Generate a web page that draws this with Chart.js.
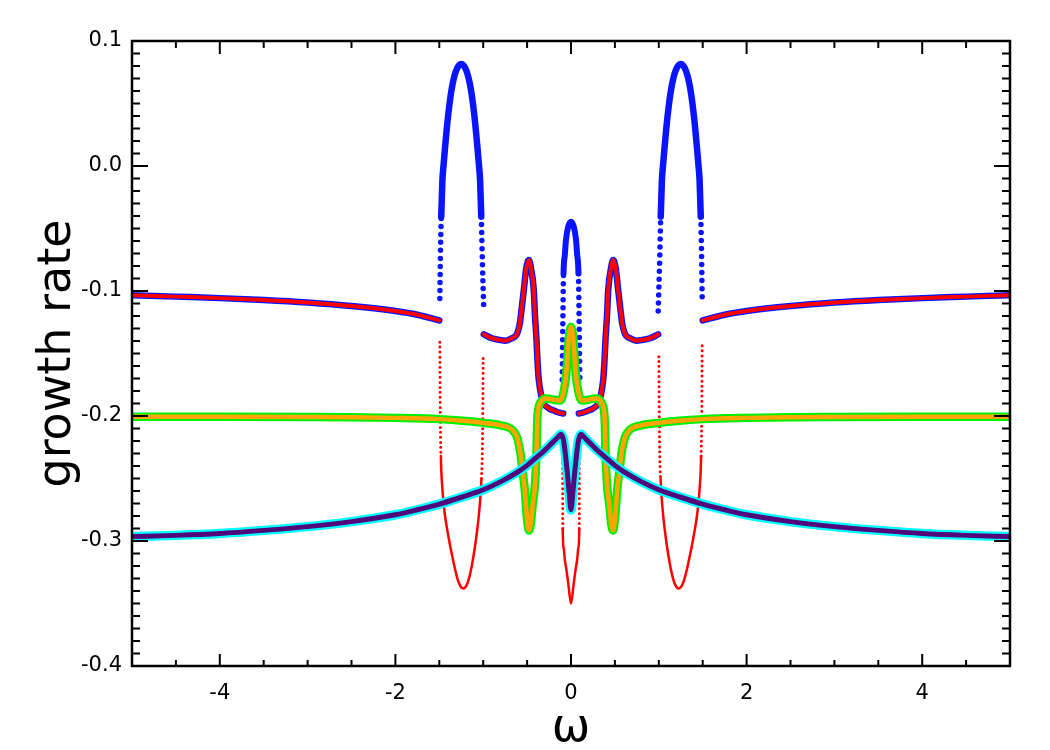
<!DOCTYPE html>
<html>
<head>
<meta charset="utf-8">
<script src="https://cdn.jsdelivr.net/npm/chart.js@4.4.1/dist/chart.umd.min.js"></script>
<style>
  body { margin: 0; background: #fff; }
  #wrap { width: 1050px; height: 750px; }
</style>
</head>
<body>
<div id="wrap"><canvas id="chart" width="1050" height="750"></canvas></div>
<script>
// axis ticks
const xTicks = [-4, -2, 0, 2, 4];
const xTickLabels = ['-4', '-2', '0', '2', '4'];
const yTicks = [-0.4, -0.3, -0.2, -0.1, 0.0, 0.1];
const yTickLabels = ['-0.4', '-0.3', '-0.2', '-0.1', '0.0', '0.1'];

// blue + red share these branches (outer wings)
const outerXL = [-5, -4.5, -4, -3.5, -3, -2.5, -2, -1.75, -1.5];
const outerYL = [-0.1033, -0.1045, -0.1057, -0.1072, -0.1092, -0.1120, -0.1160, -0.1190, -0.1235];
const outerXR = [1.5, 1.75, 2, 2.5, 3, 3.5, 4, 4.5, 5];
const outerYR = [-0.1235, -0.1190, -0.1160, -0.1120, -0.1092, -0.1072, -0.1057, -0.1045, -0.1033];

// blue + red inner branches
const innerXL = [-0.993, -0.9, -0.8, -0.746, -0.68, -0.613, -0.583, -0.56, -0.537, -0.51, -0.481, -0.455, -0.424, -0.41, -0.393, -0.38, -0.367, -0.336, -0.31, -0.25, -0.2, -0.15, -0.089];
const innerYL = [-0.1347, -0.1378, -0.1393, -0.1397, -0.138, -0.134, -0.126, -0.113, -0.099, -0.082, -0.0752, -0.082, -0.099, -0.12, -0.139, -0.158, -0.171, -0.1845, -0.190, -0.194, -0.1955, -0.197, -0.198];
const innerXR = [0.089, 0.15, 0.2, 0.25, 0.31, 0.336, 0.367, 0.38, 0.393, 0.41, 0.424, 0.455, 0.481, 0.51, 0.537, 0.56, 0.583, 0.613, 0.68, 0.746, 0.8, 0.9, 0.993];
const innerYR = [-0.198, -0.197, -0.1955, -0.194, -0.190, -0.1845, -0.171, -0.158, -0.139, -0.12, -0.099, -0.082, -0.0752, -0.082, -0.099, -0.113, -0.126, -0.134, -0.138, -0.1397, -0.1393, -0.1378, -0.1347];

// blue only (upper split branches)
const blueArcXL = [-1.494, -1.488, -1.478, -1.465, -1.45, -1.437, -1.40, -1.358, -1.31, -1.25, -1.19, -1.142, -1.10, -1.063, -1.05, -1.035, -1.022, -1.008, -0.993];
const blueArcYL = [-0.106, -0.075, -0.0405, -0.012, 0.002, 0.0128, 0.040, 0.062, 0.076, 0.0816, 0.076, 0.062, 0.040, 0.0128, 0.002, -0.012, -0.0405, -0.080, -0.116];
const blueArcXR = [0.993, 1.008, 1.022, 1.035, 1.05, 1.063, 1.10, 1.142, 1.19, 1.25, 1.31, 1.358, 1.40, 1.437, 1.45, 1.465, 1.478, 1.488, 1.494];
const blueArcYR = [-0.116, -0.080, -0.0405, -0.012, 0.002, 0.0128, 0.040, 0.062, 0.076, 0.0816, 0.076, 0.062, 0.040, 0.0128, 0.002, -0.012, -0.0405, -0.075, -0.106];
const blueMidX = [-0.100, -0.097, -0.093, -0.085, -0.070, -0.057, -0.030, 0, 0.030, 0.057, 0.070, 0.085, 0.093, 0.097, 0.100];
const blueMidY = [-0.171, -0.150, -0.126, -0.086, -0.071, -0.059, -0.048, -0.0445, -0.048, -0.059, -0.071, -0.086, -0.126, -0.150, -0.171];

// red only (lower split branches)
const redDipXL = [-1.494, -1.490, -1.482, -1.465, -1.44, -1.41, -1.335, -1.28, -1.228, -1.175, -1.125, -1.068, -1.04, -1.02, -1.008, -1.0];
const redDipYL = [-0.141, -0.190, -0.232, -0.258, -0.277, -0.291, -0.318, -0.333, -0.338, -0.333, -0.318, -0.291, -0.272, -0.25, -0.22, -0.1525];
const redDipXR = [1.0, 1.008, 1.02, 1.04, 1.068, 1.125, 1.175, 1.228, 1.28, 1.335, 1.41, 1.44, 1.465, 1.482, 1.490, 1.494];
const redDipYR = [-0.1525, -0.22, -0.25, -0.272, -0.291, -0.318, -0.333, -0.338, -0.333, -0.318, -0.291, -0.277, -0.258, -0.232, -0.190, -0.141];
const redMidX = [-0.095, -0.094, -0.085, -0.070, -0.052, -0.027, 0, 0.027, 0.052, 0.070, 0.085, 0.094, 0.095];
const redMidY = [-0.230, -0.290, -0.305, -0.315, -0.323, -0.3365, -0.350, -0.3365, -0.323, -0.315, -0.305, -0.290, -0.230];

// green / orange branch
const greenX = [-5, -4, -3, -2.5, -2, -1.5, -1.2, -1, -0.8, -0.7, -0.65, -0.61, -0.575, -0.55, -0.53, -0.5, -0.48, -0.46, -0.435, -0.412, -0.393, -0.385, -0.365, -0.34, -0.3, -0.25, -0.2, -0.12, -0.082, -0.055, -0.04, -0.028, -0.015, 0,
  0.015, 0.028, 0.04, 0.055, 0.082, 0.12, 0.2, 0.25, 0.3, 0.34, 0.365, 0.385, 0.393, 0.412, 0.435, 0.46, 0.48, 0.5, 0.53, 0.55, 0.575, 0.61, 0.65, 0.7, 0.8, 1, 1.2, 1.5, 2, 2.5, 3, 4, 5];
const greenY = [-0.2005, -0.2006, -0.2008, -0.201, -0.2015, -0.2025, -0.204, -0.2055, -0.2075, -0.2095, -0.2125, -0.218, -0.230, -0.245, -0.2565, -0.283, -0.2915, -0.287, -0.270, -0.2565, -0.230, -0.205, -0.192, -0.1885, -0.186, -0.1862, -0.187, -0.1875, -0.180, -0.167, -0.153, -0.140, -0.132, -0.1285,
  -0.132, -0.140, -0.153, -0.167, -0.180, -0.1875, -0.187, -0.1862, -0.186, -0.1885, -0.192, -0.205, -0.230, -0.2565, -0.270, -0.287, -0.2915, -0.283, -0.2565, -0.245, -0.230, -0.218, -0.2125, -0.2095, -0.2075, -0.2055, -0.204, -0.2025, -0.2015, -0.201, -0.2008, -0.2006, -0.2005];

// cyan / purple branch
const cyanX = [-5, -4.5, -4, -3.5, -3, -2.5, -2, -1.75, -1.5, -1.25, -1, -0.8, -0.6, -0.5, -0.4, -0.3, -0.2, -0.15, -0.115, -0.09, -0.075, -0.065, -0.045, -0.02, 0,
  0.02, 0.045, 0.065, 0.075, 0.09, 0.115, 0.15, 0.2, 0.3, 0.4, 0.5, 0.6, 0.8, 1, 1.25, 1.5, 1.75, 2, 2.5, 3, 3.5, 4, 4.5, 5];
const cyanY = [-0.2965, -0.2955, -0.294, -0.2915, -0.2885, -0.2845, -0.279, -0.275, -0.2705, -0.265, -0.259, -0.2525, -0.2445, -0.2395, -0.2335, -0.2275, -0.2205, -0.217, -0.2145, -0.218, -0.224, -0.230, -0.243, -0.262, -0.275,
  -0.262, -0.243, -0.230, -0.224, -0.218, -0.2145, -0.217, -0.2205, -0.2275, -0.2335, -0.2395, -0.2445, -0.2525, -0.259, -0.265, -0.2705, -0.275, -0.279, -0.2845, -0.2885, -0.2915, -0.294, -0.2955, -0.2965];

function pts(xs, ys) {
  return xs.map((x, i) => ({ x: x, y: ys[i] }));
}

// steep stretches of the eigenvalue branches were sampled sparsely -> show them dotted
function steep(ctx) {
  const dx = Math.abs(ctx.p1.x - ctx.p0.x);
  const dy = Math.abs(ctx.p1.y - ctx.p0.y);
  return dy > 32 * dx;
}

function line(xs, ys, color, width, order, dotted, dotGap) {
  const ds = {
    data: pts(xs, ys),
    showLine: true,
    borderColor: color,
    borderWidth: width,
    pointRadius: 0,
    cubicInterpolationMode: 'monotone',
    borderCapStyle: 'round',
    borderJoinStyle: 'round',
    order: order
  };
  if (dotted) {
    ds.segment = {
      borderDash: ctx => steep(ctx) ? [0, dotGap] : undefined,
      borderWidth: ctx => steep(ctx) ? dotted : undefined
    };
  }
  return ds;
}

const BLUE = '#0a14ff', RED = '#ff0000', GREEN = '#00f000', ORANGE = '#ffa500', CYAN = '#00ffff', PURPLE = '#50087a';

const datasets = [
  line(cyanX, cyanY, PURPLE, 5, 0),
  line(cyanX, cyanY, CYAN, 9.5, 1),
  line(greenX, greenY, ORANGE, 4.5, 2),
  line(greenX, greenY, GREEN, 8.5, 3),
  // red on top of blue
  line(outerXL, outerYL, RED, 4, 4),
  line(outerXR, outerYR, RED, 4, 4),
  line(innerXL, innerYL, RED, 4, 4),
  line(innerXR, innerYR, RED, 4, 4),
  line(redDipXL, redDipYL, RED, 2.5, 4, 3, 5),
  line(redDipXR, redDipYR, RED, 2.5, 4, 3, 5),
  line(redMidX, redMidY, RED, 2.5, 4, 3, 5),
  line(outerXL, outerYL, BLUE, 6.5, 5),
  line(outerXR, outerYR, BLUE, 6.5, 5),
  line(innerXL, innerYL, BLUE, 6.5, 5),
  line(innerXR, innerYR, BLUE, 6.5, 5),
  line(blueArcXL, blueArcYL, BLUE, 6.5, 5, 5.5, 8),
  line(blueArcXR, blueArcYR, BLUE, 6.5, 5, 5.5, 8),
  line(blueMidX, blueMidY, BLUE, 6, 5, 5.5, 8)
];

// box + inward ticks on all four sides
const frame = {
  id: 'frame',
  afterDatasetsDraw(chart) {
    const ctx = chart.ctx;
    const a = chart.chartArea;
    const xs = chart.scales.x, ys = chart.scales.y;
    ctx.save();
    ctx.strokeStyle = '#000';
    ctx.lineWidth = 2;
    ctx.beginPath();
    for (let i = 0; i <= 20; i++) {
      const v = -5 + i * 0.5;
      const px = xs.getPixelForValue(v);
      const len = (i % 4 === 2) ? 12 : 6;
      ctx.moveTo(px, a.bottom); ctx.lineTo(px, a.bottom - len);
      ctx.moveTo(px, a.top); ctx.lineTo(px, a.top + len + 1);
    }
    for (let i = 0; i <= 50; i++) {
      const v = -0.4 + i * 0.01;
      const py = ys.getPixelForValue(v);
      const len = (i % 10 === 0) ? 16 : 8;
      ctx.moveTo(a.left, py); ctx.lineTo(a.left + len, py);
      ctx.moveTo(a.right, py); ctx.lineTo(a.right - len, py);
    }
    ctx.stroke();
    ctx.lineWidth = 2.5;
    ctx.strokeRect(a.left, a.top, a.right - a.left, a.bottom - a.top);
    ctx.restore();
  }
};

const tickFont = { family: 'DejaVu Sans', size: 21 };

new Chart(document.getElementById('chart'), {
  type: 'scatter',
  data: { datasets: datasets },
  options: {
    responsive: false,
    animation: false,
    layout: { padding: { top: 41, right: 40, left: 0, bottom: 0 } },
    plugins: { legend: { display: false }, tooltip: { enabled: false } },
    scales: {
      x: {
        type: 'linear',
        min: -5,
        max: 5,
        afterFit(s) { s.height = 84; },
        afterBuildTicks(s) { s.ticks = xTicks.map(v => ({ value: v })); },
        grid: { display: false, drawTicks: false },
        border: { display: false },
        ticks: {
          color: '#000',
          font: tickFont,
          padding: 15,
          maxRotation: 0,
          callback: (v, i) => xTickLabels[i]
        },
        title: {
          display: true,
          text: 'ω',
          color: '#000',
          font: { family: 'DejaVu Sans', size: 46, lineHeight: 1 },
          padding: { top: 0, bottom: -2 }
        }
      },
      y: {
        type: 'linear',
        min: -0.4,
        max: 0.1,
        afterFit(s) { s.width = 132; },
        afterBuildTicks(s) { s.ticks = yTicks.map(v => ({ value: v })); },
        grid: { display: false, drawTicks: false },
        border: { display: false },
        ticks: {
          color: '#000',
          font: tickFont,
          padding: 10,
          callback: (v, i) => yTickLabels[i]
        },
        title: {
          display: true,
          text: 'growth rate',
          color: '#000',
          font: { family: 'DejaVu Sans', size: 46, lineHeight: 1.2 },
          padding: { top: 30, bottom: 0 }
        }
      }
    }
  },
  plugins: [frame]
});
</script>
</body>
</html>
